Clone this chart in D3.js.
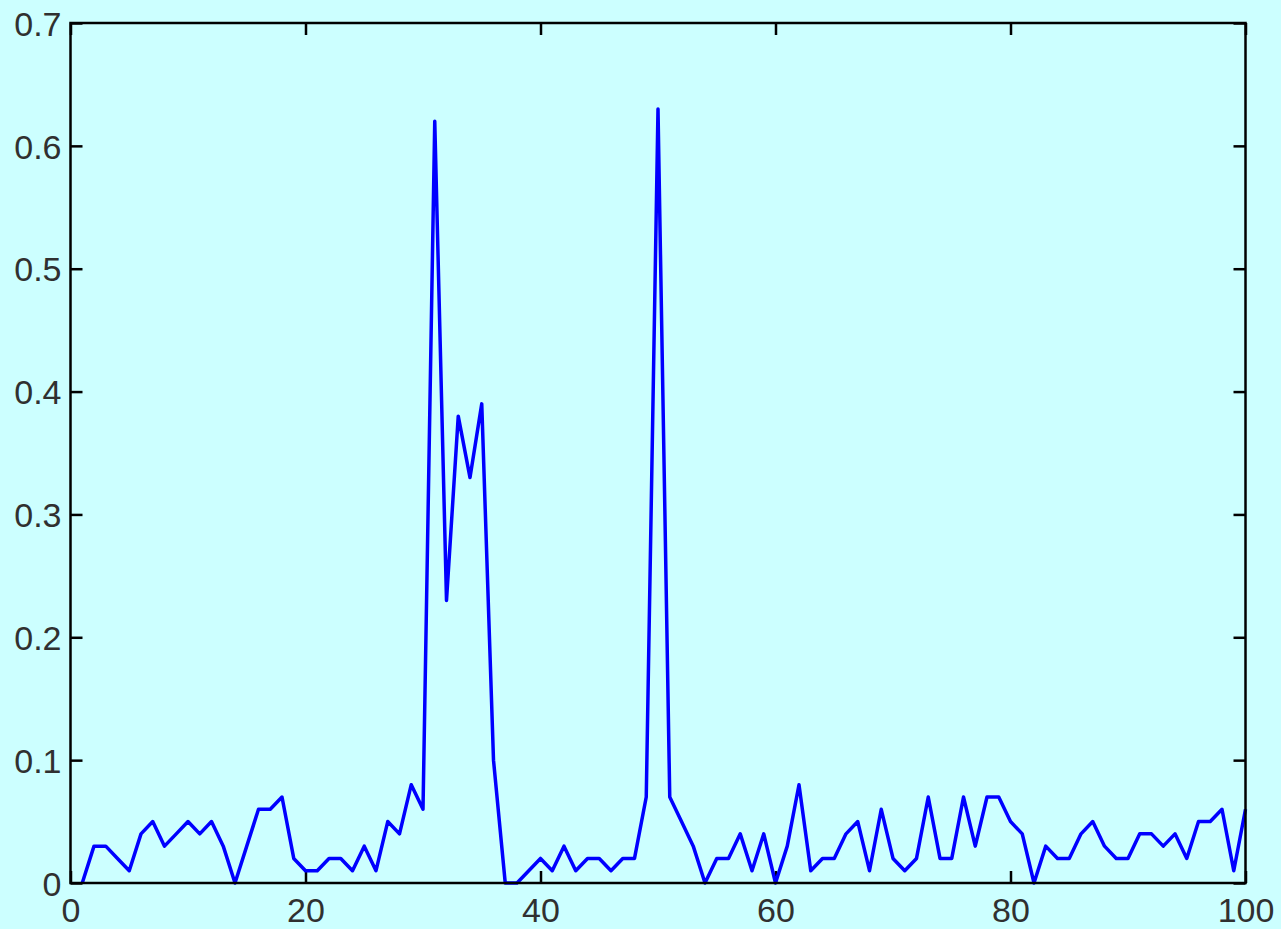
<!DOCTYPE html>
<html>
<head>
<meta charset="utf-8">
<script src="https://cdn.jsdelivr.net/npm/d3@7"></script>
<style>
  html, body { margin: 0; padding: 0; background: #ccffff; }
  svg { display: block; }
  .axis text { font-family: "Liberation Sans", Arial, sans-serif; font-size: 34px; fill: #303030; }
  .axis path { display: none; }
  .axis line { stroke: #000; stroke-width: 2.5px; }
</style>
</head>
<body>
<svg id="chart"></svg>
<script>
// sample index along x
const sampleIdx = d3.range(1, 101);

// signal values, one per sample
const signal = [
  0.00, 0.03, 0.03, 0.02, 0.01, 0.04, 0.05, 0.03, 0.04, 0.05,
  0.04, 0.05, 0.03, 0.00, 0.03, 0.06, 0.06, 0.07, 0.02, 0.01,
  0.01, 0.02, 0.02, 0.01, 0.03, 0.01, 0.05, 0.04, 0.08, 0.06,
  0.62, 0.23, 0.38, 0.33, 0.39, 0.10, 0.00, 0.00, 0.01, 0.02,
  0.01, 0.03, 0.01, 0.02, 0.02, 0.01, 0.02, 0.02, 0.07, 0.63,
  0.07, 0.05, 0.03, 0.00, 0.02, 0.02, 0.04, 0.01, 0.04, 0.00,
  0.03, 0.08, 0.01, 0.02, 0.02, 0.04, 0.05, 0.01, 0.06, 0.02,
  0.01, 0.02, 0.07, 0.02, 0.02, 0.07, 0.03, 0.07, 0.07, 0.05,
  0.04, 0.00, 0.03, 0.02, 0.02, 0.04, 0.05, 0.03, 0.02, 0.02,
  0.04, 0.04, 0.03, 0.04, 0.02, 0.05, 0.05, 0.06, 0.01, 0.06
];

const xTicks = [0, 20, 40, 60, 80, 100];
const yTicks = [0, 0.1, 0.2, 0.3, 0.4, 0.5, 0.6, 0.7];

const W = 1281, H = 929;
const margin = {top: 23, right: 35.5, bottom: 46, left: 70.5};
const innerW = W - margin.left - margin.right;
const innerH = H - margin.top - margin.bottom;
const tickLen = 12;

const svg = d3.select('#chart')
    .attr('width', W)
    .attr('height', H);

const g = svg.append('g')
    .attr('transform', `translate(${margin.left},${margin.top})`);

const x = d3.scaleLinear().domain([0, 100]).range([0, innerW]);
const y = d3.scaleLinear().domain([0, 0.7]).range([innerH, 0]);

const fmtY = d => d === 0 ? '0' : d3.format('.1f')(d);

// bottom axis with labels, ticks pointing inside
g.append('g').attr('class', 'axis')
    .attr('transform', `translate(0,${innerH})`)
    .call(d3.axisBottom(x).tickValues(xTicks).tickSize(-tickLen).tickPadding(15));

// top axis, ticks only
g.append('g').attr('class', 'axis')
    .call(d3.axisTop(x).tickValues(xTicks).tickSize(-tickLen).tickFormat(''));

// left axis with labels
g.append('g').attr('class', 'axis')
    .call(d3.axisLeft(y).tickValues(yTicks).tickSize(-tickLen).tickPadding(9).tickFormat(fmtY))
    .selectAll('text').attr('dy', '0.36em');

// right axis, ticks only
g.append('g').attr('class', 'axis')
    .attr('transform', `translate(${innerW},0)`)
    .call(d3.axisRight(y).tickValues(yTicks).tickSize(-tickLen).tickFormat(''));

// signal line
const line = d3.line()
    .x((d, i) => x(sampleIdx[i]))
    .y(d => y(d));

g.append('path')
    .datum(signal)
    .attr('d', line)
    .attr('fill', 'none')
    .attr('stroke', '#0000ff')
    .attr('stroke-width', 3.5)
    .attr('stroke-linejoin', 'round');

// box frame
g.append('rect')
    .attr('x', 0)
    .attr('y', 0)
    .attr('width', innerW)
    .attr('height', innerH)
    .attr('fill', 'none')
    .attr('stroke', '#000')
    .attr('stroke-width', 2.5);
</script>
</body>
</html>
